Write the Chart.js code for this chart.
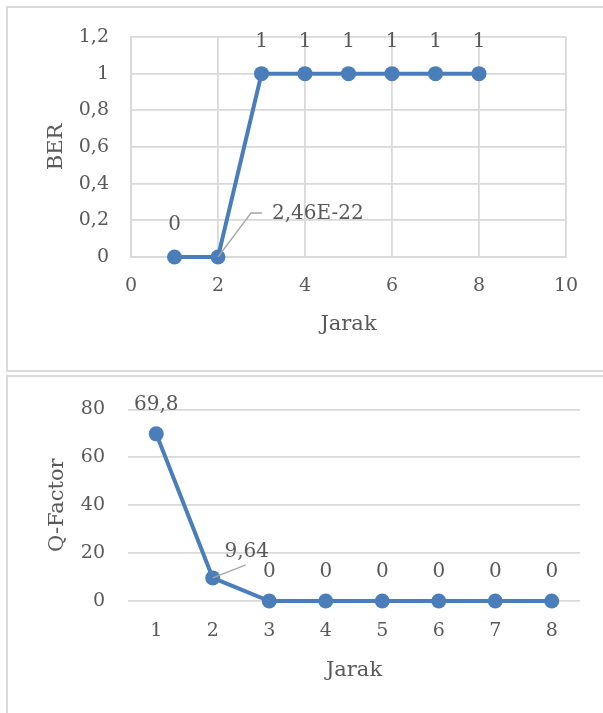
<!DOCTYPE html>
<html>
<head>
<meta charset="utf-8">
<script src="https://cdn.jsdelivr.net/npm/chart.js@4.4.1/dist/chart.umd.min.js"></script>
<style>
  html, body { margin: 0; padding: 0; background: #fff; }
  canvas { position: absolute; left: 0; }
</style>
</head>
<body>
<canvas id="berChart" width="603" height="372" style="top:0;"></canvas>
<canvas id="qChart" width="603" height="338" style="top:375px;"></canvas>
<script>
// BER against distance (Jarak)
const jarakBer = [1, 2, 3, 4, 5, 6, 7, 8];
const berValues = [0, 2.46e-22, 1, 1, 1, 1, 1, 1];
const berXTicks = [0, 2, 4, 6, 8, 10];
const berYTicks = [0, 0.2, 0.4, 0.6, 0.8, 1.0, 1.2];

// Q-Factor against distance (Jarak)
const jarakQ = ['1', '2', '3', '4', '5', '6', '7', '8'];
const qValues = [69.8, 9.64, 0, 0, 0, 0, 0, 0];
const qYTicks = [0, 20, 40, 60, 80];

const BLUE = '#4a7ebb';
const GRID = '#d9d9d9';
const FRAME = '#dadada';
const TEXT = '#595959';
const FONT = '"DejaVu Serif", "Liberation Serif", serif';

Chart.defaults.font.family = FONT;
Chart.defaults.color = TEXT;

// Decimal comma, scientific notation for tiny values
function fmt(v) {
  if (v !== 0 && Math.abs(v) < 1e-4) {
    return v.toExponential(2).replace('.', ',').replace('e', 'E');
  }
  return String(Math.round(v * 1000) / 1000).replace('.', ',');
}

// Light frame around each chart object (left, top and optional bottom edges)
const chartFrame = {
  id: 'chartFrame',
  beforeDraw(chart, args, opts) {
    const ctx = chart.ctx;
    const w = chart.width, h = chart.height;
    ctx.save();
    ctx.strokeStyle = FRAME;
    ctx.lineWidth = 2;
    ctx.beginPath();
    ctx.moveTo(w + 2, opts.top);
    ctx.lineTo(opts.left, opts.top);
    if (opts.bottom !== undefined) {
      ctx.lineTo(opts.left, opts.bottom);
      ctx.lineTo(w + 2, opts.bottom);
    } else {
      ctx.lineTo(opts.left, h + 2);
    }
    ctx.stroke();
    ctx.restore();
  }
};

// Value labels above each point, with optional leader-line callouts
const pointLabels = {
  id: 'pointLabels',
  afterDatasetsDraw(chart, args, opts) {
    const ctx = chart.ctx;
    const meta = chart.getDatasetMeta(0);
    const data = chart.data.datasets[0].data;
    ctx.save();
    ctx.font = opts.size + 'px ' + FONT;
    ctx.fillStyle = TEXT;
    ctx.textBaseline = 'middle';
    meta.data.forEach((pt, i) => {
      const raw = data[i];
      const v = (raw !== null && typeof raw === 'object') ? raw.y : raw;
      const text = fmt(v);
      const c = opts.callouts && opts.callouts[i];
      if (c) {
        ctx.strokeStyle = '#a6a6a6';
        ctx.lineWidth = 1.3;
        ctx.beginPath();
        ctx.moveTo(pt.x, pt.y);
        c.leader.forEach(([dx, dy]) => ctx.lineTo(pt.x + dx, pt.y + dy));
        ctx.stroke();
        ctx.textAlign = c.align;
        ctx.fillText(text, pt.x + c.dx, pt.y + c.dy);
      } else {
        ctx.textAlign = 'center';
        ctx.fillText(text, pt.x, pt.y - opts.offset);
      }
    });
    ctx.restore();
  }
};

const lineStyle = {
  borderColor: BLUE,
  backgroundColor: BLUE,
  pointBackgroundColor: BLUE,
  pointBorderColor: BLUE,
  borderWidth: 4,
  pointRadius: 7.5,
  pointHoverRadius: 7.5,
  pointBorderWidth: 0,
  tension: 0,
  clip: false
};

new Chart(document.getElementById('berChart'), {
  type: 'scatter',
  data: {
    datasets: [Object.assign({
      data: jarakBer.map((x, i) => ({ x: x, y: berValues[i] })),
      showLine: true
    }, lineStyle)]
  },
  options: {
    responsive: false,
    animation: false,
    events: [],
    layout: { padding: { left: 0, top: 37, right: 37, bottom: 35 } },
    plugins: {
      legend: { display: false },
      tooltip: { enabled: false },
      chartFrame: { left: 7, top: 7, bottom: 371 },
      pointLabels: {
        size: 20,
        offset: 32,
        callouts: { 1: { align: 'left', dx: 54, dy: -43, leader: [[33, -44], [44, -44]] } }
      }
    },
    scales: {
      x: {
        type: 'linear',
        min: 0, max: 10,
        afterBuildTicks: s => { s.ticks = berXTicks.map(v => ({ value: v })); },
        afterFit: s => { s.height = 80; },
        grid: { color: GRID, lineWidth: 1.8, drawTicks: false },
        border: { color: GRID, width: 1.8 },
        ticks: { padding: 18, color: TEXT, font: { size: 19 }, callback: v => fmt(v) },
        title: { display: true, text: 'Jarak', color: TEXT, font: { size: 21 }, padding: 0 }
      },
      y: {
        min: 0, max: 1.2,
        afterBuildTicks: s => { s.ticks = berYTicks.map(v => ({ value: v })); },
        afterFit: s => { s.width = 131; },
        grid: { color: GRID, lineWidth: 1.8, drawTicks: false },
        border: { color: GRID, width: 1.8 },
        ticks: { padding: 22, color: TEXT, font: { size: 19 }, callback: v => fmt(v) },
        title: { display: true, text: 'BER', color: TEXT, font: { size: 21 }, padding: { top: 44, bottom: 0 } }
      }
    }
  },
  plugins: [chartFrame, pointLabels]
});

new Chart(document.getElementById('qChart'), {
  type: 'line',
  data: {
    labels: jarakQ,
    datasets: [Object.assign({ data: qValues }, lineStyle)]
  },
  options: {
    responsive: false,
    animation: false,
    events: [],
    layout: { padding: { left: 0, top: 29, right: 23, bottom: 30 } },
    plugins: {
      legend: { display: false },
      tooltip: { enabled: false },
      chartFrame: { left: 7, top: 1 },
      pointLabels: {
        size: 20,
        offset: 29,
        callouts: { 1: { align: 'center', dx: 34, dy: -26, leader: [[33, -13]] } }
      }
    },
    scales: {
      x: {
        offset: true,
        afterFit: s => { s.height = 82; },
        grid: { display: false, drawTicks: false },
        border: { display: false },
        ticks: { padding: 19, color: TEXT, font: { size: 19 } },
        title: { display: true, text: 'Jarak', color: TEXT, font: { size: 21 }, padding: 0 }
      },
      y: {
        min: 0, max: 80,
        afterBuildTicks: s => { s.ticks = qYTicks.map(v => ({ value: v })); },
        afterFit: s => { s.width = 128; },
        grid: { color: GRID, lineWidth: 1.8, drawTicks: false },
        border: { display: false },
        ticks: { padding: 23, color: TEXT, font: { size: 19 }, callback: v => fmt(v) },
        title: { display: true, text: 'Q-Factor', color: TEXT, font: { size: 21 }, padding: { top: 45, bottom: 0 } }
      }
    }
  },
  plugins: [chartFrame, pointLabels]
});
</script>
</body>
</html>
